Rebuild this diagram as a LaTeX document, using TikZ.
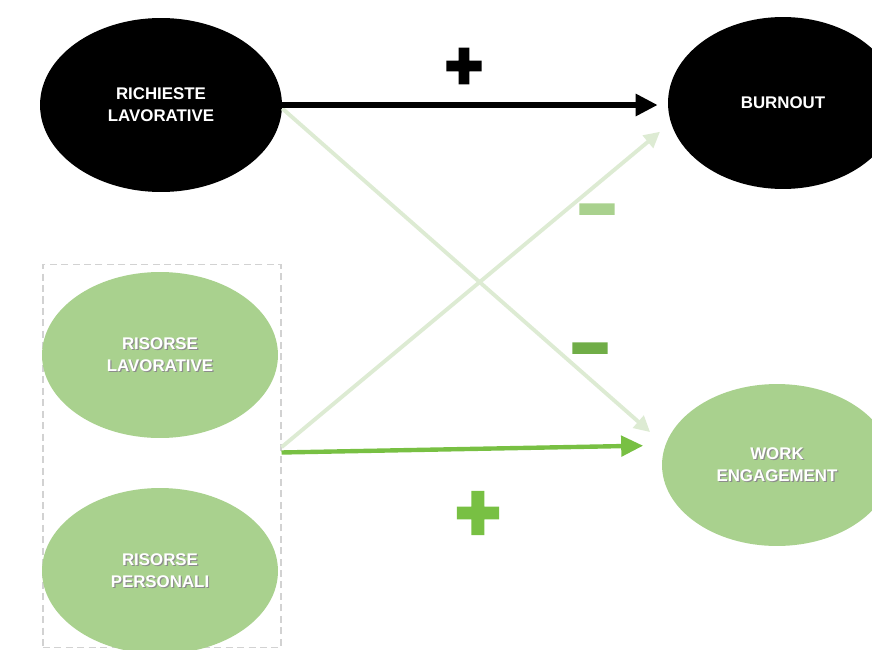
\documentclass[tikz,border=0pt]{standalone}
\usepackage{fontspec}
\setmainfont{Liberation Sans}
\newfontfamily\emofont{Noto Emoji}[AutoFakeBold=8]
\usepackage{xcolor}
\usetikzlibrary{shapes.geometric,arrows.meta}
\definecolor{ellgreen}{HTML}{A9D18E}
\definecolor{palegreen}{HTML}{DDEBD3}
\definecolor{brightgreen}{HTML}{78C043}
\definecolor{midgreen}{HTML}{70AD47}
\newcommand{\shd}[1]{\makebox[0pt][l]{\kern0.7pt\raisebox{-0.7pt}{\textcolor{black!45}{#1}}}#1}
\tikzset{
	oval/.style={ellipse, inner sep=0pt, text=white, align=center,
			font=\bfseries\fontsize{9.6}{12.5}\selectfont},
	dark/.style={oval, fill=black},
	light/.style={oval, fill=ellgreen},
	sign/.style={font=\emofont\bfseries\fontsize{20}{20}\selectfont, inner sep=0pt},
	bigsign/.style={font=\emofont\bfseries\fontsize{24}{24}\selectfont, inner sep=0pt},
	posarrow/.style={line width=3.1pt, -{Triangle[length=12.5pt,width=12pt]}},
	weakarrow/.style={palegreen, line width=2.2pt, -{Triangle[length=9pt,width=9pt]}},
	grnarrow/.style={brightgreen, line width=2.5pt, -{Triangle[length=12.5pt,width=11.5pt]}}
}

\begin{document}
\begin{tikzpicture}[x=0.02cm, y=-0.02cm]
	\clip (0,0) rectangle (872,649);
	\node[draw=gray!35, dash pattern=on 4pt off 2.5pt, line width=0.6pt,
		minimum width=4.76cm, minimum height=7.66cm] (res) at (162,456) {};
	\node[dark, minimum width=4.84cm, minimum height=3.48cm] (rl) at (161,105) {RICHIESTE\\LAVORATIVE};
	\node[dark, minimum width=4.6cm, minimum height=3.44cm] (bo) at (783,103) {BURNOUT};
	\node[light, minimum width=4.72cm, minimum height=3.32cm] (rla) at (160,355) {\shd{RISORSE}\\\shd{LAVORATIVE}};
	\node[light, minimum width=4.72cm, minimum height=3.32cm] (rp) at (160,571) {\shd{RISORSE}\\\shd{PERSONALI}};
	\node[light, minimum width=4.6cm, minimum height=3.24cm] (we) at (777,465) {\shd{WORK}\\\shd{ENGAGEMENT}};

	\draw[weakarrow, shorten >=0.4cm] ([yshift=-2pt]rl.east) -- (we.170);
	\draw[weakarrow, shorten >=0.28cm] ([yshift=5pt]res.east) -- (bo.190);
	\draw[posarrow, shorten >=0.2cm] (rl.east) -- (rl.east -| bo.west);
	\draw[grnarrow, shorten >=0.44cm] ([yshift=2pt]res.east) -- (we.170);

	\node[sign] (p1) at (464,66) {➕};
	\node[sign, ellgreen] (m1) at (597,213) {➖};
	\node[sign, midgreen] (m2) at (590,352) {➖};
	\node[bigsign, brightgreen] (p2) at (478,513) {➕};
\end{tikzpicture}
\end{document}
